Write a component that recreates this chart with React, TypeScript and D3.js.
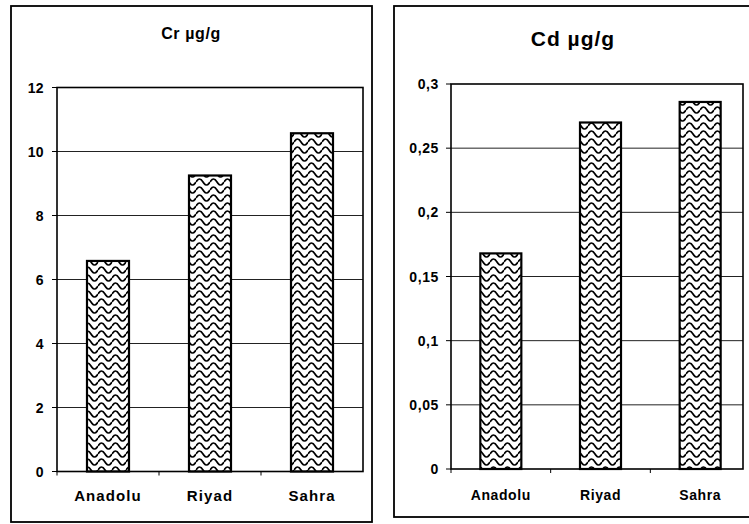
import React from "react";
import * as d3 from "d3";

const categories = ["Anadolu", "Riyad", "Sahra"];
const crValues = [6.58, 9.25, 10.57];
const cdValues = [0.168, 0.27, 0.286];
const crTicks = [0, 2, 4, 6, 8, 10, 12];
const cdTicks = [0, 0.05, 0.1, 0.15, 0.2, 0.25, 0.3];
const crTitle = "Cr µg/g";
const cdTitle = "Cd µg/g";

const FONT = "'Liberation Sans', Arial, Helvetica, sans-serif";

type PanelProps = {
  id: string;
  title: string;
  values: number[];
  ticks: number[];
  max: number;
  box: { x0: number; y0: number; x1: number; y1: number };
  plot: { x0: number; x1: number; y0: number; y1: number; bandEnd: number };
  barW: number;
  titleX: number;
  titleY: number;
  titleSize: number;
  titleSpacing: number;
  tickSize: number;
  tickSpacing: number;
  tickLabelX: number;
  catSize: number;
  catSpacing: number;
  catY: number;
};

function fmt(v: number) {
  return String(v).replace(".", ",");
}

function Panel(p: PanelProps) {
  const x = d3
    .scaleBand<string>()
    .domain(categories)
    .range([p.plot.x0, p.plot.bandEnd])
    .paddingInner(0)
    .paddingOuter(0);
  const y = d3.scaleLinear().domain([0, p.max]).range([p.plot.y1, p.plot.y0]);
  const boundaries = categories.map((c) => x(c) as number);
  return (
    <g>
      <rect
        x={p.box.x0}
        y={p.box.y0}
        width={p.box.x1 - p.box.x0}
        height={p.box.y1 - p.box.y0}
        fill="white"
        stroke="black"
        strokeWidth={1.8}
      />
      <text
        x={p.titleX}
        y={p.titleY}
        textAnchor="middle"
        fontFamily={FONT}
        fontWeight="bold"
        fontSize={p.titleSize}
        letterSpacing={p.titleSpacing}
      >
        {p.title}
      </text>
      {p.ticks
        .filter((t) => t > 0 && t < p.max)
        .map((t) => (
          <line
            key={"g" + t}
            x1={p.plot.x0}
            x2={p.plot.x1}
            y1={y(t)}
            y2={y(t)}
            stroke="#222"
            strokeWidth={1}
          />
        ))}
      {p.ticks.map((t) => (
        <g key={"t" + t}>
          <line x1={p.plot.x0 - 5} x2={p.plot.x0} y1={y(t)} y2={y(t)} stroke="black" strokeWidth={1} />
          <text
            x={p.tickLabelX}
            y={y(t)}
            dy="0.36em"
            textAnchor="end"
            fontFamily={FONT}
            fontWeight="bold"
            fontSize={p.tickSize}
            letterSpacing={p.tickSpacing}
          >
            {fmt(t)}
          </text>
        </g>
      ))}
      {categories.map((c, i) => {
        const cx = (x(c) as number) + x.bandwidth() / 2;
        return (
          <rect
            key={"b" + c}
            x={cx - p.barW / 2}
            y={y(p.values[i])}
            width={p.barW}
            height={y(0) - y(p.values[i])}
            fill={`url(#wave-${p.id})`}
            stroke="black"
            strokeWidth={2.2}
          />
        );
      })}
      <rect
        x={p.plot.x0}
        y={p.plot.y0}
        width={p.plot.x1 - p.plot.x0}
        height={p.plot.y1 - p.plot.y0}
        fill="none"
        stroke="black"
        strokeWidth={1.6}
      />
      {boundaries.map((b) => (
        <line key={"xt" + b} x1={b} x2={b} y1={p.plot.y1} y2={p.plot.y1 + 4} stroke="black" strokeWidth={1} />
      ))}
      {categories.map((c) => (
        <text
          key={"c" + c}
          x={(x(c) as number) + x.bandwidth() / 2}
          y={p.catY}
          textAnchor="middle"
          fontFamily={FONT}
          fontWeight="bold"
          fontSize={p.catSize}
          letterSpacing={p.catSpacing}
        >
          {c}
        </text>
      ))}
    </g>
  );
}

function WavePattern({ id }: { id: string }) {
  return (
    <pattern id={`wave-${id}`} patternUnits="userSpaceOnUse" width={14} height={8}>
      <rect width={14} height={8} fill="white" />
      <path d="M0,6 Q3.5,0 7,6 T14,6" fill="none" stroke="black" strokeWidth={1.7} />
      <path d="M0,-2 Q3.5,-8 7,-2 T14,-2" fill="none" stroke="black" strokeWidth={1.7} />
      <path d="M0,14 Q3.5,8 7,14 T14,14" fill="none" stroke="black" strokeWidth={1.7} />
    </pattern>
  );
}

export default function App() {
  return (
    <svg
      width={749}
      height={524}
      style={{ position: "absolute", left: 0, top: 0, background: "white" }}
    >
      <defs>
        <WavePattern id="cr" />
        <WavePattern id="cd" />
      </defs>
      <rect width={749} height={524} fill="white" />
      <Panel
        id="cr"
        title={crTitle}
        values={crValues}
        ticks={crTicks}
        max={12}
        box={{ x0: 11, y0: 6, x1: 372, y1: 522 }}
        plot={{ x0: 57, x1: 363, y0: 87.5, y1: 471.5, bandEnd: 363 }}
        barW={42}
        titleX={191}
        titleY={39}
        titleSize={16}
        titleSpacing={0.6}
        tickSize={14}
        tickSpacing={0.4}
        tickLabelX={44}
        catSize={15}
        catSpacing={1.1}
        catY={501}
      />
      <Panel
        id="cd"
        title={cdTitle}
        values={cdValues}
        ticks={cdTicks}
        max={0.3}
        box={{ x0: 394, y0: 6, x1: 760, y1: 517 }}
        plot={{ x0: 451, x1: 743, y0: 84, y1: 469, bandEnd: 750 }}
        barW={41}
        titleX={573}
        titleY={46}
        titleSize={21}
        titleSpacing={1}
        tickSize={14}
        tickSpacing={0.6}
        tickLabelX={439}
        catSize={14}
        catSpacing={0.6}
        catY={500}
      />
    </svg>
  );
}
